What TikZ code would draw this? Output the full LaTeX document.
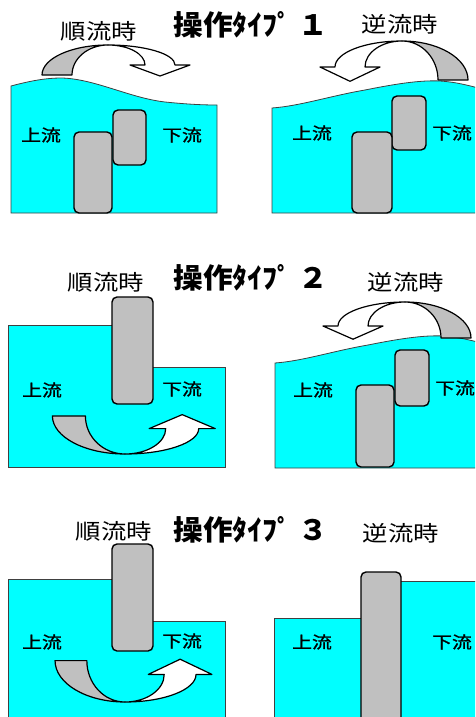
\documentclass[tikz,border=0pt]{standalone}
\usepackage{fontspec}
\newfontfamily\jp{Noto Sans CJK JP}
\newfontfamily\jpthick[FakeBold=1.2]{Noto Sans CJK JP}
\definecolor{waterc}{HTML}{00FFFF}
\definecolor{gatec}{HTML}{C0C0C0}
\begin{document}
\begin{tikzpicture}[x=1pt,y=-1pt,
  waterbody/.style={fill=waterc,draw=black!75,line width=0.8pt},
  gatebox/.style={fill=gatec,draw=black,line width=1.4pt,rounded corners=5pt},
  twistshade/.style={fill=gatec,draw=black,line width=1.2pt,line join=round},
  twistfront/.style={fill=white,draw=black,line width=1.2pt,line join=round},
  lbl/.style={inner sep=0pt,font=\jpthick\fontsize{16.5}{18}\selectfont},
  flowtxt/.style={inner sep=0pt,font=\jp\fontsize{21.5}{24}\selectfont},
  ttl/.style={inner sep=0pt,font=\jp\bfseries\fontsize{28}{30}\selectfont}]
% twisted ribbon arrow, apex at the origin, depth along +y
\newcommand\ribbonarrow[1]{%
  \begin{scope}[#1]
    \path[twistshade] (-66,30) .. controls (-66,13.43) and (-36.45,0) .. (0,0)
      .. controls (-19.88,0) and (-36,13.43) .. (-36,30) -- cycle;
    \path[twistfront] (0,0) .. controls (37,0) and (67,8.95) .. (67,20)
      -- (82,20) -- (52,31) -- (22,20) -- (37,20)
      .. controls (37,8.95) and (20.43,0) .. (0,0) -- cycle;
  \end{scope}}
\useasboundingbox (0,0) rectangle (475,717);
\clip (0,0) rectangle (475,717);

% ---- type 1, forward flow
\path[waterbody] (11,86) .. controls (30,81) and (45,78) .. (62,78)
  .. controls (95,79) and (130,98) .. (165,102)
  .. controls (185,104) and (200,105) .. (217,105) -- (217,213) -- (11,213) -- cycle;
\draw[gatebox] (113,110) rectangle (146,165);
\draw[gatebox] (74,132) rectangle (112,213);
\ribbonarrow{shift={(108,45)}}
% ---- type 1, reverse flow
\path[waterbody] (272,108) .. controls (300,106) and (330,96) .. (365,90)
  .. controls (395,84) and (420,80) .. (440,81)
  .. controls (455,82) and (468,85) .. (485,90) -- (485,213) -- (272,213) -- cycle;
\draw[gatebox] (392,96) rectangle (426,150);
\draw[gatebox] (352,132) rectangle (392,213);
\ribbonarrow{shift={(402,41)},xscale=-1,yscale=1.3}

% ---- type 2, forward flow
\path[waterbody] (8,325) -- (132,325) -- (132,367) -- (225,367) -- (225,467) -- (8,467) -- cycle;
\draw[gatebox] (112,297) rectangle (153,404);
\ribbonarrow{shift={(125,454)},xscale=1.1,yscale=-1.27}
% ---- type 2, reverse flow
\path[waterbody] (275,363) .. controls (303,361) and (333,351) .. (368,345)
  .. controls (398,339) and (423,335) .. (443,336)
  .. controls (458,337) and (471,340) .. (488,345) -- (488,468) -- (275,468) -- cycle;
\draw[gatebox] (395,350) rectangle (429,406);
\draw[gatebox] (356,385) rectangle (394,467);
\ribbonarrow{shift={(405,302)},xscale=-1,yscale=1.2}

% ---- type 3, forward flow
\path[waterbody] (8,579) -- (132,579) -- (132,621) -- (225,621) -- (225,730) -- (8,730) -- cycle;
\draw[gatebox] (112,544) rectangle (153,651);
\ribbonarrow{shift={(125,702)},xscale=1.06,yscale=-1.38}
% ---- type 3, reverse flow
\path[waterbody] (274,618) -- (380,618) -- (380,581) -- (490,581) -- (490,730) -- (274,730) -- cycle;
\draw[gatebox] (361,572) rectangle (401,730);

% ---- labels
\node[ttl] (t1) at (251,25) {\scalebox{1.06}[1]{操作ﾀｲﾌﾟ １}};
\node[ttl] (t2) at (251,278) {\scalebox{1.06}[1]{操作ﾀｲﾌﾟ ２}};
\node[ttl] (t3) at (251,530) {\scalebox{1.06}[1]{操作ﾀｲﾌﾟ ３}};
\node[flowtxt] (f1) at (99,31) {\scalebox{1.18}[1]{順流時}};
\node[flowtxt] (f2) at (106,282) {\scalebox{1.18}[1]{順流時}};
\node[flowtxt] (f3) at (114,531) {\scalebox{1.18}[1]{順流時}};
\node[flowtxt] (r1) at (400,24) {\scalebox{1.18}[1]{逆流時}};
\node[flowtxt] (r2) at (406,282) {\scalebox{1.18}[1]{逆流時}};
\node[flowtxt] (r3) at (401,533) {\scalebox{1.18}[1]{逆流時}};
\node[lbl] (u1) at (41,135) {\scalebox{1.2}[1]{上流}};
\node[lbl] (d1) at (182,135) {\scalebox{1.2}[1]{下流}};
\node[lbl] (u2) at (312,133) {\scalebox{1.2}[1]{上流}};
\node[lbl] (d2) at (452,133) {\scalebox{1.2}[1]{下流}};
\node[lbl] (u3) at (42,390) {\scalebox{1.2}[1]{上流}};
\node[lbl] (d3) at (182,389) {\scalebox{1.2}[1]{下流}};
\node[lbl] (u4) at (313,390) {\scalebox{1.2}[1]{上流}};
\node[lbl] (d4) at (455,388) {\scalebox{1.2}[1]{下流}};
\node[lbl] (u5) at (42,642) {\scalebox{1.2}[1]{上流}};
\node[lbl] (d5) at (182,641) {\scalebox{1.2}[1]{下流}};
\node[lbl] (u6) at (312,642) {\scalebox{1.2}[1]{上流}};
\node[lbl] (d6) at (452,642) {\scalebox{1.2}[1]{下流}};
\end{tikzpicture}
\end{document}
